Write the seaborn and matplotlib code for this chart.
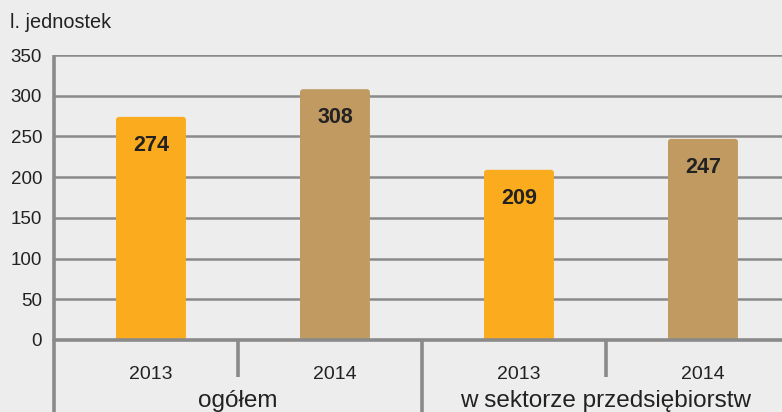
import matplotlib
matplotlib.use("Agg")
import matplotlib.pyplot as plt
import matplotlib.transforms as mtransforms
from matplotlib.patches import FancyBboxPatch
import pandas as pd
import seaborn as sns

# data
groups = ["ogółem", "ogółem", "w sektorze przedsiębiorstw", "w sektorze przedsiębiorstw"]
years = ["2013", "2014", "2013", "2014"]
values = [274, 308, 209, 247]
group_names = ["ogółem", "w sektorze przedsiębiorstw"]
yticks = [0, 50, 100, 150, 200, 250, 300, 350]
ylabel = "l. jednostek"

BG = "#ECEDEC"
GRID = "#8A8A8A"
TXT = "#222222"
palette = {"2013": "#FBAB1E", "2014": "#C19A62"}
SHIFT = 0.027  # bars sit a little right of their slot centre

df = pd.DataFrame({"slot": [f"{g} {y}" for g, y in zip(groups, years)],
                   "year": years, "value": values})

sns.set_style("white")
plt.rcParams["font.family"] = ["Liberation Sans", "DejaVu Sans"]

fig = plt.figure(figsize=(7.82, 4.12), dpi=100, facecolor=BG)
ax = fig.add_axes([54 / 782, 72 / 412, 736 / 782, 285 / 412])
ax.set_facecolor(BG)

sns.barplot(data=df, x="slot", y="value", hue="year", palette=palette,
            dodge=False, width=0.38, legend=False, ax=ax, zorder=3,
            edgecolor="none", saturation=1)

ax.set_xlim(-0.5, 3.5)
ax.set_ylim(0, 350)

# swap the plain rectangles for slightly rounded ones
aspect = (350 / 285) / (4 / 736)
for p in list(ax.patches):
    fb = FancyBboxPatch((p.get_x() + SHIFT, p.get_y()), p.get_width(), p.get_height(),
                        boxstyle="round,pad=0,rounding_size=0.016",
                        mutation_aspect=aspect, facecolor=p.get_facecolor(),
                        edgecolor="none", zorder=3)
    p.remove()
    ax.add_patch(fb)

ax.set_yticks(yticks)
ax.set_yticklabels([str(t) for t in yticks], fontsize=13.5, color=TXT)
ax.set_xticks([i + SHIFT for i in range(len(years))])
ax.set_xticklabels(years, fontsize=14, color=TXT)
ax.tick_params(axis="x", length=0, pad=19)
ax.tick_params(axis="y", length=4.5, width=2, color=GRID, pad=4)
ax.set_xlabel("")
ax.set_ylabel("")

ax.grid(axis="y", color=GRID, lw=1.8, zorder=1)
ax.set_axisbelow(True)
for s in ["top", "right", "bottom", "left"]:
    ax.spines[s].set_visible(False)
ax.axhline(0, color=GRID, lw=2.6, zorder=4, clip_on=False)

# axis and separator lines below the plot
trans = mtransforms.blended_transform_factory(ax.transData, ax.transAxes)
for x, y0 in [(-0.5, -0.26), (0.5, -0.13), (1.5, -0.26), (2.5, -0.13)]:
    ax.plot([x, x], [1.0 if x == -0.5 else 0, y0], color=GRID, lw=2.6,
            transform=trans, clip_on=False, zorder=4, solid_capstyle="butt")

# group labels
for i, name in enumerate(group_names):
    ax.text(2 * i + 0.5, -0.215, name, transform=trans, ha="center",
            va="center", fontsize=17.5, color=TXT)

# value labels inside the bars
for i, v in enumerate(values):
    ax.text(i + SHIFT, v - 35, str(v), ha="center", va="center", fontsize=15.5,
            fontweight="bold", color=TXT, zorder=5)

fig.text(10 / 782, 1 - 23 / 412, ylabel, ha="left", va="center",
         fontsize=14.3, color=TXT)

fig.savefig("out.png", dpi=100, facecolor=BG)
